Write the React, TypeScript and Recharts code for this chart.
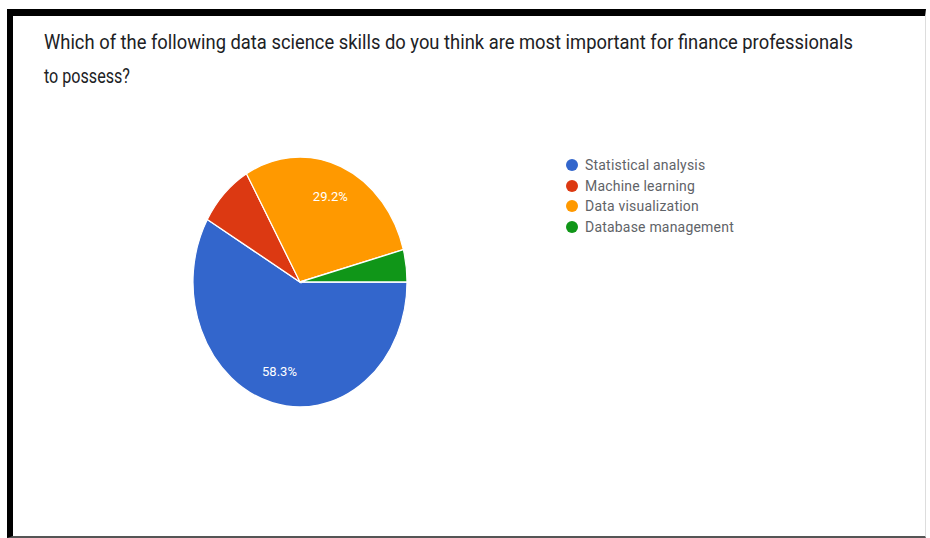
import { PieChart, Pie, Cell, Legend } from 'recharts'

const skills = ['Statistical analysis', 'Machine learning', 'Data visualization', 'Database management']
const responses = [14, 2, 7, 1]
const colors = ['#3366cc', '#dc3912', '#ff9900', '#109618']

const titleLines = [
  'Which of the following data science skills do you think are most important for finance professionals',
  'to possess?',
]

const data = skills.map((name, i) => ({ name, value: responses[i] }))

// the screenshot is stretched vertically, so the pie is an ellipse
const STRETCH = 125 / 107
const RAD = Math.PI / 180
const CX = 300
const CY = 282

function sliceLabel(props: any) {
  const { cx, cy, midAngle, outerRadius, percent } = props
  if (percent < 0.1) return null
  const x = cx + outerRadius * 0.74 * Math.cos(midAngle * RAD)
  const y = cy - outerRadius * STRETCH * 0.74 * Math.sin(midAngle * RAD)
  return (
    <text x={x} y={y} fill="#ffffff" fontSize={13} textAnchor="middle" dominantBaseline="central" fontFamily="Roboto, sans-serif">
      {`${(percent * 100).toFixed(1)}%`}
    </text>
  )
}

function renderLegend() {
  return (
    <div style={{ fontFamily: 'Roboto, sans-serif' }}>
      {skills.map((s, i) => (
        <div key={s} style={{ display: 'flex', alignItems: 'center', height: 20.5 }}>
          <span style={{ width: 12, height: 12, borderRadius: 6, background: colors[i], display: 'inline-block', marginRight: 7 }} />
          <span style={{ fontSize: 14, color: '#5f6368', letterSpacing: 0.2 }}>{s}</span>
        </div>
      ))}
    </div>
  )
}

export default function App() {
  return (
    <div style={{ position: 'absolute', left: 0, top: 0, width: 930, height: 538, background: '#fff', overflow: 'hidden' }}>
      <style>{`.recharts-pie .recharts-sector { transform: scaleY(${STRETCH}); transform-origin: ${CX}px ${CY}px; }`}</style>
      <div
        style={{
          position: 'absolute',
          left: 7,
          top: 9,
          width: 930 - 7 - 6 - 1 - 4,
          height: 538 - 9 - 7 - 2,
          borderTop: '7px solid #000',
          borderLeft: '6px solid #000',
          borderBottom: '2px solid #555',
          borderRight: '1px solid #ddd',
        }}
      />
      <svg width={930} height={110} style={{ position: 'absolute', left: 0, top: 0 }}>
        <text x={44} y={49} fontSize={19.5} fill="#202124" fontFamily="Roboto, sans-serif" textLength={809} lengthAdjust="spacingAndGlyphs">
          {titleLines[0]}
        </text>
        <text x={44} y={83} fontSize={19.5} fill="#202124" fontFamily="Roboto, sans-serif" textLength={86} lengthAdjust="spacingAndGlyphs">
          {titleLines[1]}
        </text>
      </svg>
      <div style={{ position: 'absolute', left: 0, top: 0 }}>
        <PieChart width={930} height={538} margin={{ top: 0, right: 0, bottom: 0, left: 0 }}>
          <Pie
            data={data}
            dataKey="value"
            nameKey="name"
            cx={CX}
            cy={CY}
            outerRadius={107}
            startAngle={0}
            endAngle={-360}
            stroke="#ffffff"
            strokeWidth={1.2}
            isAnimationActive={false}
            label={sliceLabel}
            labelLine={false}
          >
            {data.map((d, i) => (
              <Cell key={d.name} fill={colors[i]} />
            ))}
          </Pie>
          <Legend
            layout="vertical"
            content={renderLegend}
            wrapperStyle={{ position: 'absolute', left: 566, top: 155, width: 220 }}
          />
        </PieChart>
      </div>
    </div>
  )
}
